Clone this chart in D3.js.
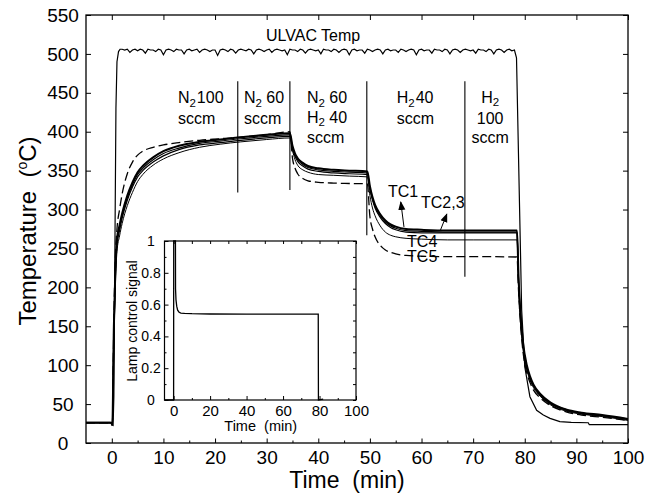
<!DOCTYPE html>
<html>
<head>
<meta charset="utf-8">
<script src="https://cdn.jsdelivr.net/npm/d3@7/dist/d3.min.js"></script>
<style>
  body { margin: 0; background: #fff; }
  svg { display: block; font-family: "Liberation Sans", Arial, Helvetica, sans-serif; }
  .tick line { stroke: #000; stroke-width: 1; }
</style>
</head>
<body>
<svg id="chart" width="657" height="498"></svg>
<script>
// thermocouple readings, all on the same time grid (min)
const tcTime = [-5, -0.1, 0.1, 0.4, 0.7, 1, 1.5, 2, 3, 4, 5, 6, 8, 10, 13, 17, 21, 25, 30, 34.5,
  35, 35.5, 36, 37, 38, 40, 43, 46, 49.5, 50, 50.5, 51, 52, 53, 54, 55, 57, 60, 65, 70, 78.5,
  78.8, 79.1, 79.7, 80.4, 81, 81.7, 83, 85, 88, 91, 95, 100];
const tc1 = [26, 26, 23, 150, 225, 262, 280, 295, 318, 335, 348, 356, 367, 375, 382, 387, 390, 393, 396, 398,
  382, 372, 366, 360, 356, 353, 351, 350, 349, 330, 316, 306, 294, 286, 281, 278, 275, 274, 273, 273, 273,
  212, 174, 127, 100, 86, 75, 63, 52, 43, 39, 36, 31];
const tc2 = [26, 26, 23, 145, 220, 258, 277, 292, 315, 332, 345, 353, 364, 372, 379, 385, 388, 391, 394, 396,
  380, 370, 364, 358, 354, 351, 349, 348, 347, 328, 314, 304, 292, 284, 279, 276, 273, 272, 271, 271, 271,
  210, 172, 125, 98, 84, 74, 62, 51, 43, 38, 35, 31];
const tc3 = [26, 26, 23, 140, 215, 254, 273, 289, 312, 329, 342, 350, 361, 369, 377, 383, 386, 389, 392, 394,
  378, 368, 362, 356, 352, 349, 347, 346, 345, 326, 312, 302, 290, 282, 277, 274, 271, 270, 270, 270, 270,
  208, 170, 123, 97, 83, 73, 61, 50, 42, 38, 35, 30];
const tc4 = [26, 26, 23, 130, 205, 246, 266, 282, 305, 322, 336, 345, 357, 365, 373, 380, 384, 387, 390, 392,
  376, 364, 357, 351, 348, 345, 344, 343, 342, 318, 302, 292, 279, 271, 267, 265, 263, 262, 261, 261, 261,
  200, 164, 118, 94, 81, 71, 60, 49, 41, 37, 34, 29];
const tc5 = [26, 26, 23, 160, 240, 275, 300, 320, 346, 361, 370, 375, 380, 383, 386, 389, 391, 393, 396, 400,
  366, 353, 346, 340, 337, 335, 334, 333.5, 333, 291, 275, 265, 254, 248, 245, 243, 241, 240, 239.5, 239.5, 239,
  195, 160, 115, 90, 78, 68, 58, 48, 40, 36, 33, 29];

// ULVAC controller temperature
const ulvacTime = [-5, -0.3, 0.25, 0.4, 0.6, 0.8, 1, 1.3, 1.6,
  2, 2.5, 3, 3.5, 4, 4.5, 5, 5.5, 6, 6.5,
  7, 7.5, 8, 8.5, 9, 9.5, 10, 10.5, 11, 11.5,
  12, 12.5, 13, 13.5, 14, 14.5, 15, 15.5, 16, 16.5,
  17, 17.5, 18, 18.5, 19, 19.5, 20, 20.5, 21, 21.5,
  22, 22.5, 23, 23.5, 24, 24.5, 25, 25.5, 26, 26.5,
  27, 27.5, 28, 28.5, 29, 29.5, 30, 30.5, 31, 31.5,
  32, 32.5, 33, 33.5, 34, 34.5, 35, 35.5, 36, 36.5,
  37, 37.5, 38, 38.5, 39, 39.5, 40, 40.5, 41, 41.5,
  42, 42.5, 43, 43.5, 44, 44.5, 45, 45.5, 46, 46.5,
  47, 47.5, 48, 48.5, 49, 49.5, 50, 50.5, 51, 51.5,
  52, 52.5, 53, 53.5, 54, 54.5, 55, 55.5, 56, 56.5,
  57, 57.5, 58, 58.5, 59, 59.5, 60, 60.5, 61, 61.5,
  62, 62.5, 63, 63.5, 64, 64.5, 65, 65.5, 66, 66.5,
  67, 67.5, 68, 68.5, 69, 69.5, 70, 70.5, 71, 71.5,
  72, 72.5, 73, 73.5, 74, 74.5, 75, 75.5, 76, 76.5,
  77, 77.5, 78,
  78.4, 79.4, 80, 81, 82.3, 83.6, 84.9, 86.8, 89, 92.3, 92.5, 96, 100];
const ulvacTemp = [26.5, 26.5, 23, 60, 250, 430, 490, 503, 506,
  506, 505, 506, 502, 505, 506, 504, 506, 505, 501,
  506, 505, 505, 503, 506, 505, 499, 505, 506, 505,
  503, 506, 505, 505, 500, 505, 506, 504, 505, 506,
  502, 505, 506, 505, 503, 505, 505, 498, 505, 506,
  505, 503, 506, 505, 501, 505, 506, 505, 504, 506,
  505, 500, 505, 506, 505, 503, 505, 506, 502, 505,
  506, 505, 504, 505, 499, 506, 505, 505, 503, 506,
  505, 501, 505, 506, 505, 504, 505, 500, 506, 505,
  505, 503, 506, 505, 502, 505, 506, 505, 499, 505,
  506, 504, 505, 505, 501, 506, 505, 503, 505, 506,
  505, 500, 505, 506, 504, 505, 505, 502, 506, 505,
  503, 505, 506, 505, 499, 505, 506, 504, 505, 505,
  501, 506, 505, 505, 503, 506, 505, 500, 505, 506,
  505, 502, 505, 506, 505, 504, 505, 501, 506, 505,
  505, 503, 506, 505, 500, 505, 506, 505, 502, 505,
  506, 504, 505,
  495, 171, 98, 59.5, 42, 36, 31.7, 27.4, 26.5, 26, 23.5, 23.5, 23.5];

// inset: lamp control signal
const lampTime = [-5, 0, 0.05, 1, 1.05, 1.3, 1.7, 2.2, 3, 4, 6, 10, 20, 40, 60, 79.3, 79.4, 82];
const lampSignal = [0, 0, 1, 1, 0.7, 0.63, 0.59, 0.565, 0.552, 0.547, 0.545, 0.543, 0.541, 0.54, 0.54, 0.54, 0, 0.006];

// tick values
const xMajor = [0, 10, 20, 30, 40, 50, 60, 70, 80, 90, 100];
const xMinor = [5, 15, 25, 35, 45, 55, 65, 75, 85, 95];
const yMajor = [0, 50, 100, 150, 200, 250, 300, 350, 400, 450, 500, 550];
const insetXMajor = [0, 20, 40, 60, 80, 100];
const insetXMinor = [10, 30, 50, 70, 90];
const insetYMajor = [0, 0.2, 0.4, 0.6, 0.8, 1];
const insetYMinor = [0.1, 0.3, 0.5, 0.7, 0.9];

// gas switch times (vertical markers)
const switchTime = [24.4, 34.5, 49.4, 68.4];
const switchBottom = [322, 325, 267, 213.7];

var svg = d3.select("#chart");
var margin = {top: 15, right: 29, bottom: 55, left: 86};
var width = 657 - margin.left - margin.right;
var height = 498 - margin.top - margin.bottom;

var x = d3.scaleLinear().domain([-5, 100]).range([margin.left, margin.left + width]);
var y = d3.scaleLinear().domain([0, 550]).range([margin.top + height, margin.top]);

var font = "\"Liberation Sans\", Arial, Helvetica, sans-serif";
var sp2 = "\u00a0\u00a0";

// axes (ticks point inward)
function styleAxis(g) {
  g.select(".domain").remove();
  g.selectAll("text").attr("fill", "#000").attr("font-family", font);
}
svg.append("g").attr("transform", "translate(0," + y(0) + ")")
  .call(d3.axisBottom(x).tickValues(xMajor).tickSize(-4.5).tickPadding(7.5).tickFormat(d3.format("d")))
  .call(styleAxis).selectAll("text").attr("font-size", 19);
svg.append("g").attr("transform", "translate(0," + y(0) + ")")
  .call(d3.axisBottom(x).tickValues(xMinor).tickSize(-2.5).tickFormat(""))
  .call(styleAxis);
svg.append("g").attr("transform", "translate(0," + y(550) + ")")
  .call(d3.axisTop(x).tickValues(xMajor).tickSize(-5).tickFormat(""))
  .call(styleAxis);
svg.append("g").attr("transform", "translate(" + x(-5) + ",0)")
  .call(d3.axisLeft(y).tickValues(yMajor).tickSize(-5).tickFormat(d3.format("d")))
  .call(styleAxis).selectAll("text")
  .attr("font-size", 19).attr("text-anchor", "middle").attr("x", -23);
svg.append("g").attr("transform", "translate(" + x(100) + ",0)")
  .call(d3.axisRight(y).tickValues(yMajor).tickSize(-5).tickFormat(""))
  .call(styleAxis);

svg.append("rect")
  .attr("x", x(-5)).attr("y", y(550))
  .attr("width", x(100) - x(-5)).attr("height", y(0) - y(550))
  .attr("fill", "none").attr("stroke", "#000").attr("stroke-width", 1.3);

// axis titles
svg.append("text").attr("x", 347).attr("y", 488).attr("text-anchor", "middle")
  .attr("font-size", 23).attr("font-family", font).text("Time" + sp2 + "(min)");
var yt = svg.append("text").attr("transform", "translate(36,231) rotate(-90)")
  .attr("text-anchor", "middle").attr("font-size", 24).attr("font-family", font);
yt.append("tspan").text("Temperature" + sp2 + "(");
yt.append("tspan").attr("dy", -9).attr("font-size", 14).text("o");
yt.append("tspan").attr("dy", 9).text("C)");

// curves
var line = d3.line()
  .x(function (d) { return x(d[0]); })
  .y(function (d) { return y(d[1]); })
  .curve(d3.curveMonotoneX);

function pairs(ts, vs) {
  return ts.map(function (t, i) { return [t, vs[i]]; });
}

var series = [
  {v: tc4, w: 1, dash: null},
  {v: tc3, w: 1.2, dash: null},
  {v: tc2, w: 1.2, dash: null},
  {v: tc1, w: 2, dash: null},
  {v: tc5, w: 1.3, dash: "9,4"}
];
series.forEach(function (s) {
  svg.append("path").datum(pairs(tcTime, s.v))
    .attr("d", line).attr("fill", "none").attr("stroke", "#000")
    .attr("stroke-width", s.w).attr("stroke-dasharray", s.dash);
});

svg.append("path").datum(pairs(ulvacTime, ulvacTemp))
  .attr("d", d3.line().x(function (d) { return x(d[0]); }).y(function (d) { return y(d[1]); }))
  .attr("fill", "none").attr("stroke", "#000").attr("stroke-width", 1.2);

// gas switch markers
switchTime.forEach(function (t, i) {
  svg.append("line").attr("x1", x(t)).attr("x2", x(t))
    .attr("y1", y(465)).attr("y2", y(switchBottom[i]))
    .attr("stroke", "#000").attr("stroke-width", 1.1);
});

// annotations (positions in data units)
function label(t, T, parts, anchor, size) {
  var tx = svg.append("text").attr("x", x(t)).attr("y", y(T))
    .attr("font-size", size || 16).attr("font-family", font)
    .attr("text-anchor", anchor || "start");
  parts.forEach(function (p) {
    var sp = tx.append("tspan").text(p[0]);
    if (p[1] === "sub") sp.attr("font-size", 11.5).attr("dy", 3.5);
    if (p[1] === "back") sp.attr("dy", -3.5).attr("dx", p[2] || 0);
  });
  return tx;
}
label(39, 516.6, [["ULVAC Temp"]], "middle");

label(12.8, 436.5, [["N"], ["2", "sub"], ["100", "back", 1]]);
label(12.8, 409.8, [["sccm"]]);
label(25.6, 436.5, [["N"], ["2", "sub"], [" 60", "back"]]);
label(25.6, 409.8, [["sccm"]]);
label(37.8, 436.5, [["N"], ["2", "sub"], [" 60", "back"]]);
label(37.8, 411.5, [["H"], ["2", "sub"], [" 40", "back"]]);
label(37.8, 385, [["sccm"]]);
label(55.2, 436.5, [["H"], ["2", "sub"], ["40", "back", 1]]);
label(55.2, 409.8, [["sccm"]]);
label(73.3, 437.5, [["H"], ["2", "sub"]], "middle");
label(73.3, 409.8, [["100"]], "middle");
label(73.3, 385, [["sccm"]], "middle");

label(53.5, 316, [["TC1"]]);
label(59.9, 301.6, [["TC2,3"]]);
label(57.2, 252, [["TC4"]]);
label(57.2, 232.2, [["TC5"]]);

svg.append("defs").append("marker").attr("id", "head")
  .attr("viewBox", "0 0 10 10").attr("refX", 9).attr("refY", 5)
  .attr("markerWidth", 9).attr("markerHeight", 9).attr("markerUnits", "userSpaceOnUse")
  .attr("orient", "auto")
  .append("path").attr("d", "M0,1 L10,5 L0,9 Z").attr("fill", "#000");
var arrows = [[56.6, 277.6, 55.98, 309.7], [63.6, 272.4, 64.9, 294.3]];
arrows.forEach(function (a) {
  svg.append("line").attr("x1", x(a[0])).attr("y1", y(a[1]))
    .attr("x2", x(a[2])).attr("y2", y(a[3]))
    .attr("stroke", "#000").attr("stroke-width", 1).attr("marker-end", "url(#head)");
});

// inset
var xi = d3.scaleLinear().domain([-5, 100]).range([164.5, 356]);
var yi = d3.scaleLinear().domain([0, 1]).range([400, 241]);

svg.append("rect").attr("x", xi(-5)).attr("y", yi(1))
  .attr("width", xi(100) - xi(-5)).attr("height", yi(0) - yi(1))
  .attr("fill", "#fff");

svg.append("g").attr("transform", "translate(0," + yi(0) + ")")
  .call(d3.axisBottom(xi).tickValues(insetXMajor).tickSize(-4).tickPadding(5.5).tickFormat(d3.format("d")))
  .call(styleAxis).selectAll("text").attr("font-size", 15);
svg.append("g").attr("transform", "translate(0," + yi(0) + ")")
  .call(d3.axisBottom(xi).tickValues(insetXMinor).tickSize(-2).tickFormat(""))
  .call(styleAxis);
svg.append("g").attr("transform", "translate(0," + yi(1) + ")")
  .call(d3.axisTop(xi).tickValues(insetXMajor.concat(insetXMinor)).tickSize(-3).tickFormat(""))
  .call(styleAxis);
svg.append("g").attr("transform", "translate(" + xi(-5) + ",0)")
  .call(d3.axisLeft(yi).tickValues(insetYMajor).tickSize(-4).tickFormat(d3.format("~g")))
  .call(styleAxis).selectAll("text")
  .attr("font-size", 14).attr("text-anchor", "middle").attr("x", -13.5);
svg.append("g").attr("transform", "translate(" + xi(-5) + ",0)")
  .call(d3.axisLeft(yi).tickValues(insetYMinor).tickSize(-2).tickFormat(""))
  .call(styleAxis);
svg.append("g").attr("transform", "translate(" + xi(100) + ",0)")
  .call(d3.axisRight(yi).tickValues(insetYMajor.concat(insetYMinor)).tickSize(-3).tickFormat(""))
  .call(styleAxis);

svg.append("path").datum(pairs(lampTime, lampSignal))
  .attr("d", d3.line().x(function (d) { return xi(d[0]); }).y(function (d) { return yi(d[1]); }))
  .attr("fill", "none").attr("stroke", "#000").attr("stroke-width", 1.3);

svg.append("rect").attr("x", xi(-5)).attr("y", yi(1))
  .attr("width", xi(100) - xi(-5)).attr("height", yi(0) - yi(1))
  .attr("fill", "none").attr("stroke", "#000").attr("stroke-width", 1.2);

svg.append("text").attr("x", 260.7).attr("y", 431).attr("text-anchor", "middle")
  .attr("font-size", 14.5).attr("font-family", font).text("Time" + sp2 + "(min)");
svg.append("text").attr("transform", "translate(137,321) rotate(-90)")
  .attr("text-anchor", "middle").attr("font-size", 14).attr("font-family", font)
  .text("Lamp control signal");
</script>
</body>
</html>
